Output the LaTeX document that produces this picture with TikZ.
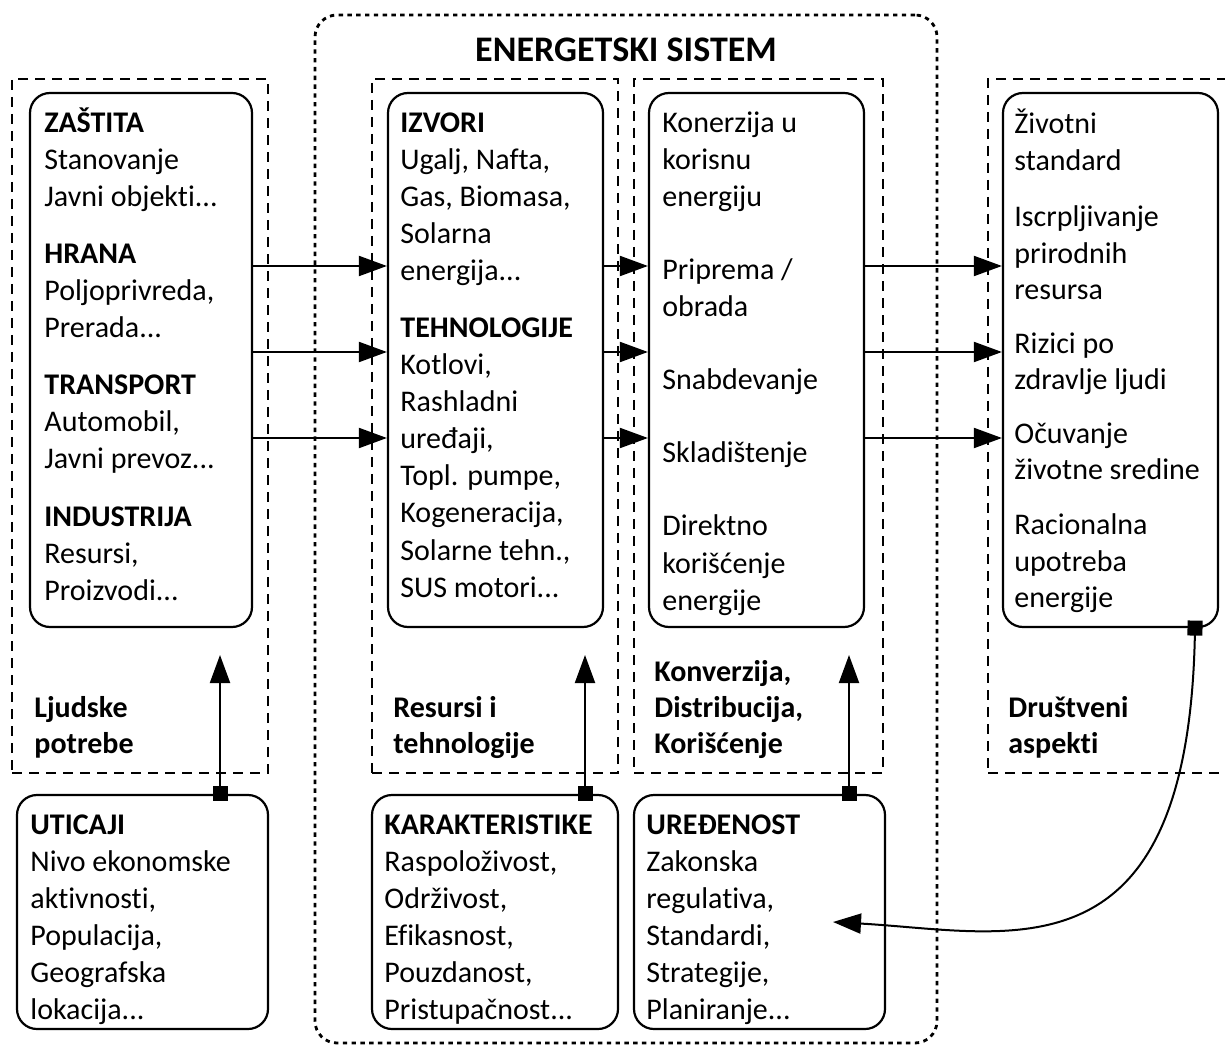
\documentclass[tikz,border=0pt]{standalone}
\usepackage{fontspec}
\setmainfont{Carlito}[Ligatures={NoCommon}]
\usetikzlibrary{arrows.meta,fit}
\begin{document}
\begin{tikzpicture}[x=0.5pt,y=-0.5pt,
  grp/.style={draw, dash pattern=on 5pt off 3.5pt, line width=0.7pt, inner sep=0pt},
  box/.style={draw, line width=1.1pt, rounded corners=10pt, inner sep=0pt},
  outer/.style={draw, dash pattern=on 2.2pt off 2.2pt, line width=1.4pt, rounded corners=11pt, inner sep=0pt},
  arr/.style={line width=1pt, -{Triangle[length=14pt,width=10pt]}},
  sarr/.style={line width=1pt, {Square[length=7.5pt,width=7.5pt]}-{Triangle[length=14pt,width=10pt]}, shorten <=-3.75pt},
  txt/.style={inner sep=0pt, anchor=base west, font=\fontsize{15}{18}\selectfont},
  lbl/.style={txt, font=\fontsize{15}{18}\selectfont\bfseries},
  ttl/.style={inner sep=0pt, anchor=base, font=\fontsize{18}{22}\selectfont\bfseries}]
\clip (0,0) rectangle (1225,1047);
% outer energy system frame
\node[outer, fit={(315,15) (937,1043)}] (sys) {};
\node[ttl] (title) at (626,62) {ENERGETSKI SISTEM};
% dashed groups
\node[grp, fit={(12,79) (268,773)}] (g1) {};
\node[grp, fit={(372,79) (618,773)}] (g2) {};
\node[grp, fit={(634,79) (883,773)}] (g3) {};
\node[grp, fit={(988,79) (1245,773)}] (g4) {};
% inner boxes
\node[box, fit={(30,93) (252,627)}] (b1) {};
\node[box, fit={(388,93) (603,627)}] (b2) {};
\node[box, fit={(649,93) (864,627)}] (b3) {};
\node[box, fit={(1003,93) (1218,627)}] (b4) {};
% bottom boxes
\node[box, fit={(17,795) (268,1029)}] (c1) {};
\node[box, fit={(372,795) (618,1029)}] (c2) {};
\node[box, fit={(634,795) (885,1029)}] (c3) {};
% texts box 1
\foreach \y/\t [count=\i] in {133/{\textbf{ZAŠTITA}}, 170/Stanovanje, 207/{Javni objekti...},
  264/{\textbf{HRANA}}, 301/{Poljoprivreda,}, 338/{Prerada...},
  395/{\textbf{TRANSPORT}}, 432/{Automobil,}, 469/{Javni prevoz...},
  526/{\textbf{INDUSTRIJA}}, 563/{Resursi,}, 600/{Proizvodi...}}
  \node[txt] (ta\i) at (44,\y) {\t};
% texts box 2
\foreach \y/\t [count=\i] in {133/{\textbf{IZVORI}}, 170/{Ugalj, Nafta,}, 207/{Gas, Biomasa,},
  244/{Solarna}, 281/{energija...}, 338/{\textbf{TEHNOLOGIJE}}, 375/{Kotlovi,},
  412/{Rashladni}, 449/{uređaji,}, 486/{Topl. pumpe,}, 523/{Kogeneracija,},
  560/{Solarne tehn.,}, 597/{SUS motori...}}
  \node[txt] (tb\i) at (400,\y) {\t};
% texts box 3
\foreach \y/\t [count=\i] in {133/{Konerzija u}, 170/{korisnu}, 207/{energiju},
  280/{Priprema /}, 317/{obrada}, 390/{Snabdevanje}, 463/{Skladištenje},
  536/{Direktno}, 573/{korišćenje}, 610/{energije}}
  \node[txt] (tc\i) at (662,\y) {\t};
% texts box 4
\foreach \y/\t [count=\i] in {134/{Životni}, 171/{standard}, 227/{Iscrpljivanje},
  264/{prirodnih}, 300/{resursa}, 354/{Rizici po}, 390/{zdravlje ljudi},
  444/{Očuvanje}, 480/{životne sredine}, 534/{Racionalna}, 571/{upotreba}, 607/{energije}}
  \node[txt] (td\i) at (1014,\y) {\t};
% bottom box texts
\foreach \y/\t [count=\i] in {834/{\textbf{UTICAJI}}, 871/{Nivo ekonomske}, 908/{aktivnosti,},
  945/{Populacija,}, 982/{Geografska}, 1019/{lokacija...}}
  \node[txt] (te\i) at (30,\y) {\t};
\foreach \y/\t [count=\i] in {834/{\textbf{KARAKTERISTIKE}}, 871/{Raspoloživost,}, 908/{Održivost,},
  945/{Efikasnost,}, 982/{Pouzdanost,}, 1019/{Pristupačnost...}}
  \node[txt] (tf\i) at (384,\y) {\t};
\foreach \y/\t [count=\i] in {834/{\textbf{UREĐENOST}}, 871/{Zakonska}, 908/{regulativa,},
  945/{Standardi,}, 982/{Strategije,}, 1019/{Planiranje...}}
  \node[txt] (tg\i) at (646,\y) {\t};
% group labels
\node[lbl] (l1a) at (34,717) {Ljudske};
\node[lbl] (l1b) at (34,753) {potrebe};
\node[lbl] (l2a) at (393,717) {Resursi i};
\node[lbl] (l2b) at (393,753) {tehnologije};
\node[lbl] (l3a) at (654,681) {Konverzija,};
\node[lbl] (l3b) at (654,717) {Distribucija,};
\node[lbl] (l3c) at (654,753) {Korišćenje};
\node[lbl] (l4a) at (1008,717) {Društveni};
\node[lbl] (l4b) at (1008,753) {aspekti};
% horizontal arrows
\foreach \y in {266,352,438} {
  \draw[arr] (b1.east |- 0,\y) -- (b2.west |- 0,\y);
  \draw[arr] (b2.east |- 0,\y) -- (b3.west |- 0,\y);
  \draw[arr] (b3.east |- 0,\y) -- (b4.west |- 0,\y);
}
% vertical arrows
\coordinate (u1) at (220,655);
\coordinate (u2) at (585,655);
\coordinate (u3) at (849,655);
\draw[sarr] (c1.north -| u1) -- (u1);
\draw[sarr] (c2.north -| u2) -- (u2);
\draw[sarr] (c3.north -| u3) -- (u3);
% curved feedback arrow
\coordinate (cs) at (1195,627);
\coordinate (ce) at (833,922);
\draw[sarr] (b4.south -| cs) .. controls (1188,985) and (1010,932) .. (ce);
\end{tikzpicture}
\end{document}
